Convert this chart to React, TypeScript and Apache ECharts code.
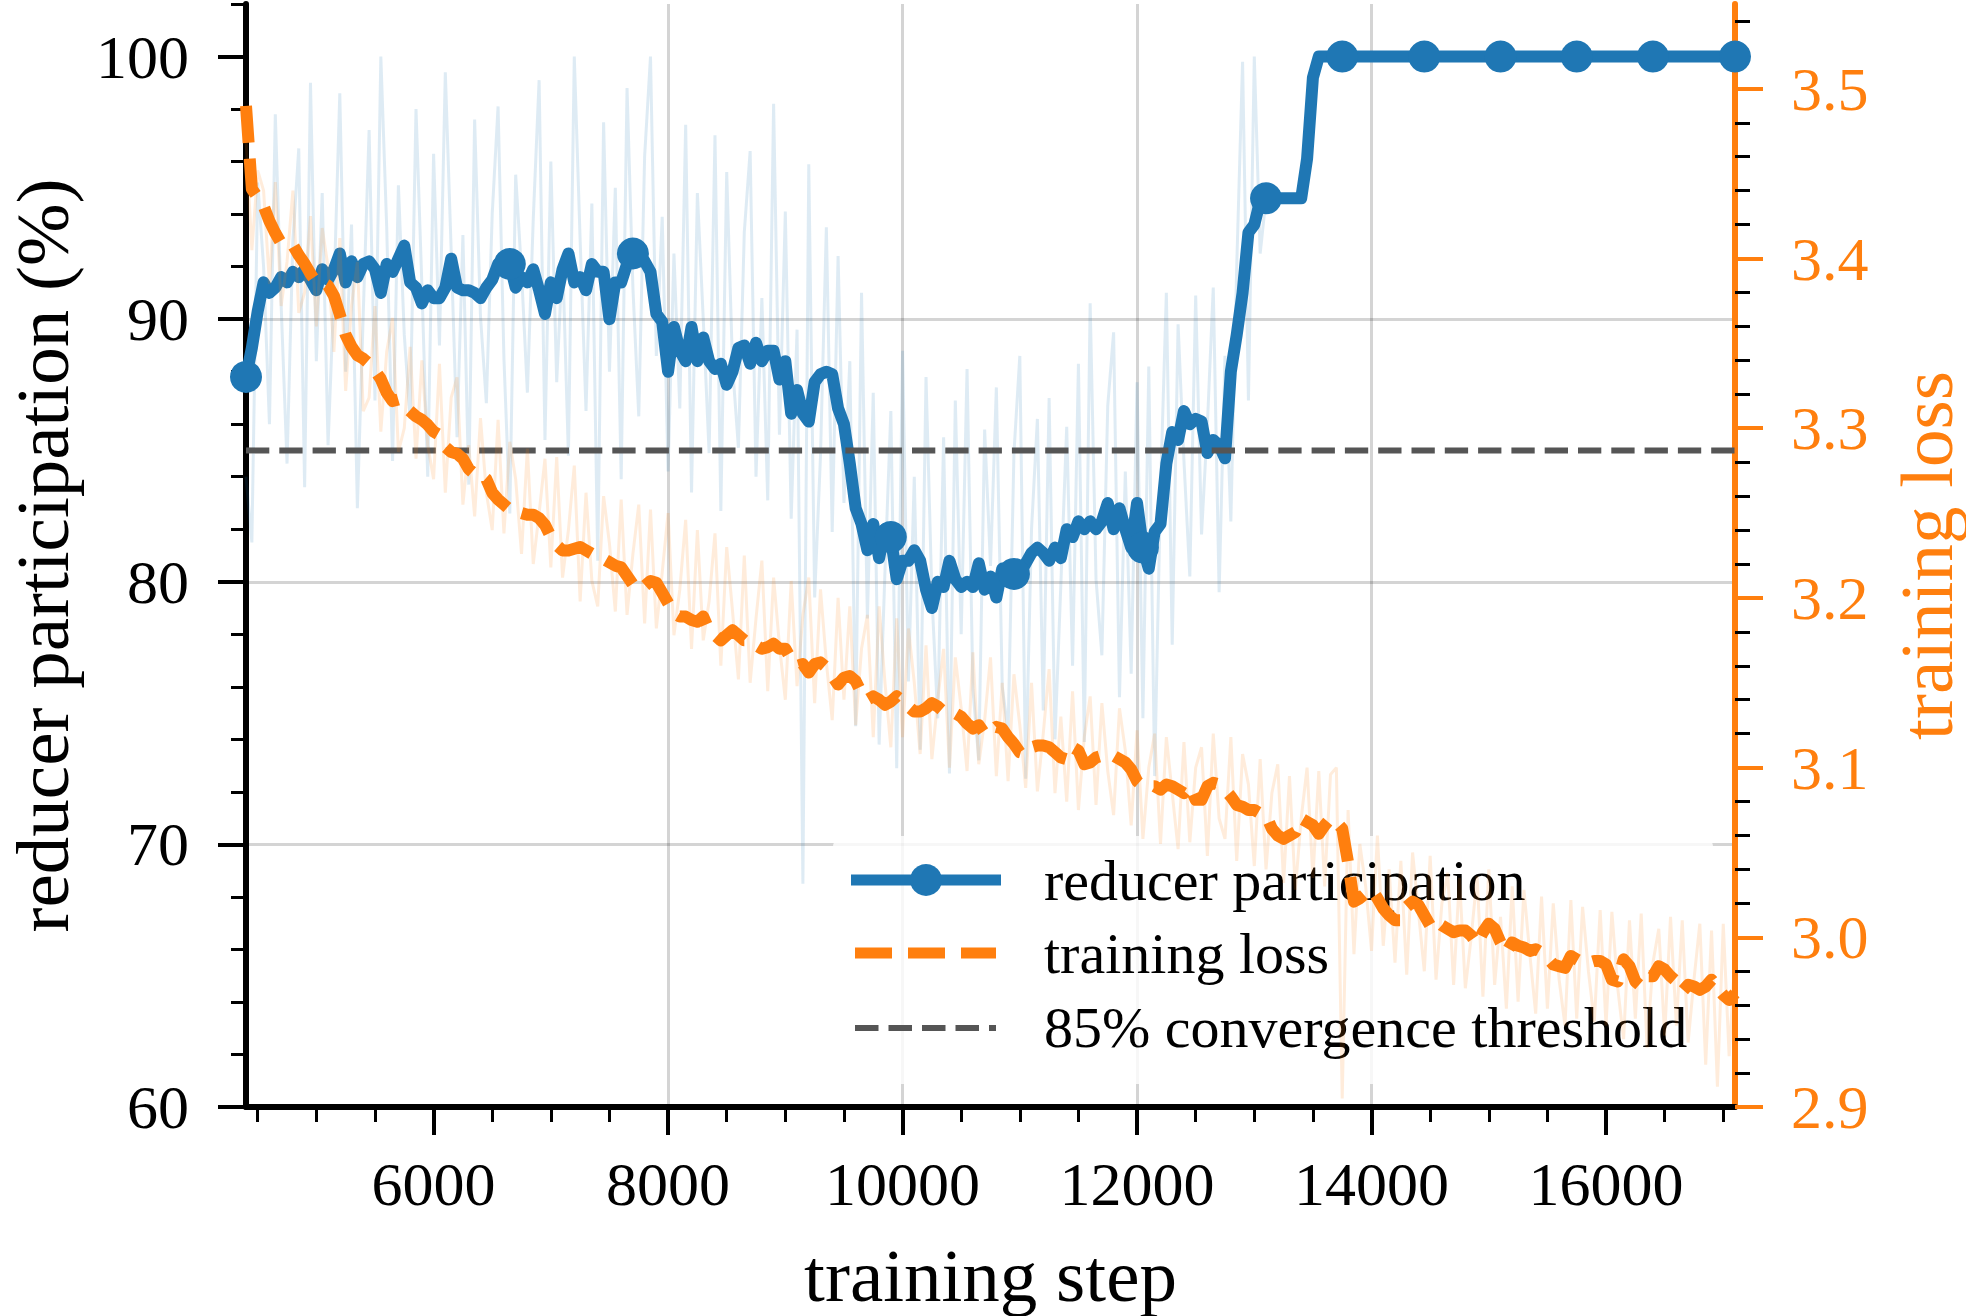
import React, { useEffect, useRef } from "react";
import * as echarts from "echarts";

// Logged every 50 training steps, from step 4400 to step 17100.
const STEP_START = 4400;
const STEP_SIZE = 50;
const STEP_MIN = 4400;
const STEP_MAX = 17100;

// Smoothed reducer participation (%).
const participation = [
  87.8, 88.9, 90.3, 91.4, 91.0, 91.2, 91.6, 91.4, 91.8, 91.6, 91.9, 91.5,
  91.1, 91.9, 91.5, 91.9, 92.5, 91.4, 92.2, 91.6, 92.1, 92.2,
  91.9, 91.0, 92.1, 91.8, 92.3, 92.8, 91.4, 91.2, 90.6, 91.1,
  90.8, 90.8, 91.2, 92.3, 91.2, 91.1, 91.1, 91.0, 90.8, 91.2,
  91.5, 92.1, 92.3, 92.1, 91.2, 91.6, 91.4, 91.9, 91.1, 90.2,
  91.4, 90.8, 91.9, 92.5, 91.4, 91.6, 91.1, 92.1, 91.8, 91.8,
  90.0, 91.4, 91.4, 92.1, 92.5, 92.5, 92.2, 91.8, 90.2, 89.9,
  88.0, 89.7, 88.8, 88.4, 89.7, 88.4, 89.3, 88.4, 88.1, 88.3,
  87.5, 88.0, 88.9, 89.0, 88.3, 89.1, 88.4, 88.8, 88.8, 87.7,
  88.4, 86.4, 87.3, 86.4, 86.1, 87.6, 87.9, 88.0, 87.9, 86.6,
  86.0, 84.5, 82.8, 82.2, 81.2, 82.2, 80.9, 82.0, 81.7, 80.1,
  80.8, 80.8, 81.2, 80.8, 79.7, 79.0, 80.0, 79.8, 80.8, 80.1,
  79.8, 80.0, 79.8, 80.7, 79.7, 80.2, 79.4, 80.5, 80.0, 80.3,
  80.3, 80.7, 81.1, 81.3, 81.1, 80.8, 81.3, 80.9, 82.0, 81.7,
  82.3, 82.0, 82.3, 82.0, 82.3, 83.0, 82.0, 82.8, 82.0, 81.3,
  83.0, 81.3, 80.5, 81.9, 82.2, 84.5, 85.7, 85.4, 86.5, 86.0,
  86.2, 86.1, 84.9, 85.4, 85.2, 84.7, 88.0, 89.4, 91.0, 93.3,
  93.6, 94.5, 94.6, 94.6, 94.6, 94.6, 94.6, 94.6, 94.6, 96.1,
  99.2, 100, 100, 100, 100, 100, 100, 100, 100, 100,
  100, 100, 100, 100, 100, 100, 100, 100, 100, 100,
  100, 100, 100, 100, 100, 100, 100, 100, 100, 100,
  100, 100, 100, 100, 100, 100, 100, 100, 100, 100,
  100, 100, 100, 100, 100, 100, 100, 100, 100, 100,
  100, 100, 100, 100, 100, 100, 100, 100, 100, 100,
  100, 100, 100, 100, 100, 100, 100, 100, 100, 100,
  100, 100, 100,
];

// Per-step reducer participation (%), until it locks in.
const participationRaw = [
  84.0, 81.5, 95.2, 92.0, 86.0, 97.8, 90.5, 84.5, 93.0, 96.5, 83.6, 99.0,
  88.4, 94.8, 85.2, 91.0, 98.6, 88.0, 93.6, 82.8, 90.2, 97.2,
  86.9, 100.0, 93.5, 84.6, 95.1, 89.4, 86.2, 98.0, 91.3, 84.0,
  96.3, 89.0, 99.4, 92.6, 85.5, 93.2, 83.7, 97.6, 90.1, 86.8,
  94.0, 98.1, 88.5, 82.6, 95.5, 91.8, 87.2, 93.8, 99.1, 85.4,
  96.0, 87.6, 92.4, 84.8, 100.0, 93.0, 86.5, 94.4, 80.8, 97.5,
  88.0, 95.0, 83.9, 98.8, 91.2, 86.3, 96.2, 100.0, 88.6, 93.9,
  84.2, 92.5, 86.6, 97.4, 83.4, 94.8, 90.0, 84.9, 97.0, 82.7,
  95.6, 88.2, 85.1, 93.3, 96.4, 84.0, 90.8, 83.1, 98.2, 85.6,
  94.1, 82.4, 89.6, 68.5, 95.9, 79.4, 84.8, 93.5, 81.9, 92.4,
  83.0, 88.4, 74.5, 91.0, 78.6, 87.2, 73.8, 80.4, 86.5, 72.9,
  88.8, 76.2, 84.0, 73.6, 87.8, 79.5, 74.8, 85.5, 72.7, 86.9,
  78.0, 88.1, 75.9, 73.2, 85.8, 80.6, 87.4, 76.0, 74.3, 84.9,
  88.6, 72.5, 82.0, 86.2, 75.1, 87.0, 74.0, 79.9, 85.9, 76.8,
  88.3, 73.9, 90.6, 80.1, 77.2, 86.7, 89.5, 75.6, 84.2, 76.5,
  87.6, 74.8, 88.2, 72.6, 83.5, 91.0, 77.6, 89.8, 84.6, 80.2,
  90.9, 81.8, 86.0, 91.2, 79.6, 88.6, 82.3, 92.0, 99.8, 86.9,
  100.0, 92.5, 94.6,
];

// Smoothed training loss.
const trainingLoss = [
  3.490, 3.441, 3.436, 3.431, 3.422, 3.415, 3.409, 3.408, 3.408, 3.402, 3.397, 3.391,
  3.386, 3.386, 3.384, 3.378, 3.367, 3.355, 3.348, 3.343, 3.341, 3.338,
  3.334, 3.329, 3.321, 3.316, 3.317, 3.313, 3.310, 3.307, 3.305, 3.302,
  3.298, 3.296, 3.289, 3.286, 3.285, 3.282, 3.276, 3.273, 3.273, 3.270,
  3.262, 3.258, 3.255, 3.252, 3.252, 3.250, 3.249, 3.249, 3.247, 3.243,
  3.236, 3.231, 3.228, 3.228, 3.229, 3.230, 3.228, 3.226, 3.225, 3.223,
  3.221, 3.219, 3.218, 3.213, 3.208, 3.205, 3.207, 3.210, 3.209, 3.203,
  3.197, 3.191, 3.189, 3.189, 3.187, 3.186, 3.189, 3.181, 3.178, 3.175,
  3.178, 3.181, 3.178, 3.175, 3.175, 3.172, 3.170, 3.171, 3.173, 3.170,
  3.170, 3.164, 3.160, 3.161, 3.156, 3.161, 3.162, 3.159, 3.154, 3.149,
  3.153, 3.154, 3.151, 3.144, 3.140, 3.142, 3.140, 3.137, 3.139, 3.142,
  3.139, 3.136, 3.133, 3.133, 3.135, 3.138, 3.136, 3.133, 3.132, 3.132,
  3.130, 3.126, 3.123, 3.125, 3.120, 3.121, 3.124, 3.123, 3.118, 3.114,
  3.109, 3.108, 3.112, 3.113, 3.113, 3.112, 3.109, 3.106, 3.105, 3.112,
  3.110, 3.102, 3.103, 3.106, 3.107, 3.108, 3.107, 3.105, 3.103, 3.099,
  3.092, 3.089, 3.089, 3.089, 3.087, 3.090, 3.089, 3.087, 3.085, 3.089,
  3.081, 3.081, 3.089, 3.091, 3.090, 3.087, 3.083, 3.078, 3.077, 3.075,
  3.075, 3.073, 3.072, 3.064, 3.060, 3.058, 3.060, 3.062, 3.070, 3.068,
  3.066, 3.061, 3.066, 3.070, 3.068, 3.064, 3.044, 3.021, 3.023, 3.026,
  3.028, 3.023, 3.017, 3.013, 3.010, 3.010, 3.018, 3.021, 3.019, 3.013,
  3.007, 3.010, 3.007, 3.005, 3.003, 3.004, 3.004, 3.001, 2.996, 3.003,
  3.008, 3.005, 2.997, 2.991, 2.997, 2.995, 2.994, 2.992, 2.993, 2.991,
  2.988, 2.984, 2.983, 2.982, 2.989, 2.987, 2.985, 2.985, 2.986, 2.986,
  2.984, 2.975, 2.974, 2.987, 2.983, 2.974, 2.971, 2.977, 2.977, 2.983,
  2.981, 2.977, 2.974, 2.968, 2.972, 2.971, 2.969, 2.971, 2.975, 2.970,
  2.966, 2.963, 2.967,
];

// Per-step training loss.
const trainingLossRaw = [
  3.470, 3.405, 3.452, 3.440, 3.385, 3.445, 3.372, 3.398, 3.440, 3.368, 3.380, 3.425,
  3.360, 3.418, 3.395, 3.345, 3.412, 3.322, 3.372, 3.398, 3.310, 3.318,
  3.372, 3.298, 3.345, 3.365, 3.286, 3.300, 3.348, 3.282, 3.340, 3.290,
  3.270, 3.338, 3.262, 3.318, 3.330, 3.255, 3.290, 3.248, 3.306, 3.262,
  3.240, 3.305, 3.238, 3.292, 3.270, 3.226, 3.288, 3.220, 3.250, 3.282,
  3.218, 3.283, 3.212, 3.240, 3.278, 3.198, 3.262, 3.210, 3.195, 3.260,
  3.232, 3.192, 3.258, 3.190, 3.226, 3.255, 3.185, 3.252, 3.182, 3.215,
  3.250, 3.178, 3.205, 3.246, 3.170, 3.240, 3.175, 3.198, 3.238, 3.160,
  3.230, 3.192, 3.152, 3.225, 3.150, 3.188, 3.222, 3.145, 3.212, 3.172,
  3.140, 3.210, 3.148, 3.190, 3.212, 3.138, 3.205, 3.162, 3.128, 3.200,
  3.140, 3.195, 3.125, 3.170, 3.190, 3.118, 3.195, 3.150, 3.112, 3.188,
  3.118, 3.182, 3.150, 3.108, 3.172, 3.105, 3.140, 3.170, 3.100, 3.165,
  3.135, 3.098, 3.168, 3.102, 3.128, 3.165, 3.095, 3.150, 3.092, 3.155,
  3.125, 3.088, 3.150, 3.086, 3.120, 3.158, 3.085, 3.130, 3.080, 3.145,
  3.075, 3.118, 3.142, 3.078, 3.138, 3.098, 3.072, 3.135, 3.110, 3.066,
  3.122, 3.058, 3.100, 3.120, 3.055, 3.118, 3.085, 3.052, 3.115, 3.056,
  3.100, 3.112, 3.048, 3.120, 3.070, 3.058, 3.118, 3.045, 3.108, 3.090,
  3.042, 3.105, 3.040, 3.085, 3.102, 3.032, 3.095, 3.028, 3.070, 3.100,
  3.035, 3.098, 3.030, 3.096, 3.100, 2.905, 3.075, 2.990, 3.055, 3.030,
  2.992, 3.060, 2.995, 3.040, 2.985, 3.045, 2.978, 3.050, 3.015, 2.980,
  3.048, 2.975, 3.020, 3.038, 2.972, 3.035, 2.970, 3.000, 3.036, 2.965,
  3.040, 2.972, 3.012, 2.958, 3.030, 2.962, 3.028, 2.990, 2.955, 3.024,
  2.958, 3.020, 2.975, 2.948, 3.022, 2.952, 3.018, 2.980, 2.950, 3.016,
  2.948, 3.015, 2.970, 2.940, 3.010, 2.952, 3.014, 2.935, 2.985, 3.005,
  2.942, 3.012, 2.948, 3.010, 2.938, 2.975, 3.008, 2.925, 3.004, 2.912,
  3.008, 2.930, 2.990,
];

// Steps that carry a participation marker.
const markerSteps = [4400, 6650, 7700, 9900, 10950, 12050, 13100, 13750, 14450, 15100, 15750, 16400, 17100];

const THRESHOLD = 85;

// Tick positions.
const stepTicks = [6000, 8000, 10000, 12000, 14000, 16000];
const stepMinorTicks = [
  4500, 5000, 5500, 6500, 7000, 7500, 8500, 9000, 9500, 10500, 11000, 11500,
  12500, 13000, 13500, 14500, 15000, 15500, 16500, 17000,
];
const participationTicks = [60, 70, 80, 90, 100];
const participationMinorTicks = [62, 64, 66, 68, 72, 74, 76, 78, 82, 84, 86, 88, 92, 94, 96, 98, 102];
const lossTicks = [2.9, 3.0, 3.1, 3.2, 3.3, 3.4, 3.5];
const lossMinorTicks = [
  2.92, 2.94, 2.96, 2.98, 3.02, 3.04, 3.06, 3.08, 3.12, 3.14, 3.16, 3.18,
  3.22, 3.24, 3.26, 3.28, 3.32, 3.34, 3.36, 3.38, 3.42, 3.44, 3.46, 3.48, 3.52, 3.54,
];

const PART_MIN = 60;
const PART_MAX = 102;
const LOSS_MIN = 2.9;
const LOSS_MAX = 3.55;

const FONT = "Liberation Serif";
const BLUE = "#1f77b4";
const ORANGE = "#ff7f0e";
const GRAY = "#555555";
const GRID_COLOR = "rgba(0,0,0,0.17)";
const TICK_FONT = 62;
const TITLE_FONT = 75;
const LEGEND_FONT = 58;
const LINE_WIDTH = 12;

const stepAt = (i: number) => STEP_START + STEP_SIZE * i;
const toPoints = (vals: number[]) => vals.map((v, i) => [stepAt(i), v]);

function legendText(text: string, y: number) {
  return {
    type: "text",
    z: 4,
    x: 1044,
    y,
    style: { text, fontSize: LEGEND_FONT, fontFamily: FONT, fill: "#000", align: "left", verticalAlign: "middle" },
  };
}

function axisTitle(text: string, x: number, y: number, color: string, vertical: boolean) {
  return {
    type: "text",
    x,
    y,
    rotation: vertical ? Math.PI / 2 : 0,
    style: {
      text,
      fontSize: TITLE_FONT,
      fontFamily: FONT,
      lineHeight: 58,
      fill: color,
      align: "center",
      verticalAlign: "middle",
    },
  };
}

function buildOption(): echarts.EChartsOption {
  const markerPoints = markerSteps.map((s) => [s, participation[(s - STEP_START) / STEP_SIZE]]);

  const minorAxisBase = {
    type: "value" as const,
    axisLine: { show: false },
    axisLabel: { show: false },
    splitLine: { show: false },
  };

  return {
    animation: false,
    backgroundColor: "#ffffff",
    textStyle: { fontFamily: FONT },
    grid: { left: 246, top: 4, width: 1489, height: 1103, containLabel: false },
    xAxis: [
      {
        type: "value",
        position: "bottom",
        min: STEP_MIN,
        max: STEP_MAX,
        axisLine: { show: true, onZero: false, lineStyle: { color: "#000", width: 6 } },
        axisTick: { show: true, length: 28, lineStyle: { color: "#000", width: 4 }, customValues: stepTicks },
        axisLabel: {
          show: true,
          customValues: stepTicks,
          margin: 46,
          fontSize: TICK_FONT,
          fontFamily: FONT,
          color: "#000",
          formatter: (v: number) => String(v),
        },
        splitLine: { show: true, showMinLine: false, showMaxLine: false, lineStyle: { color: GRID_COLOR, width: 3 } },
      },
      {
        ...minorAxisBase,
        position: "bottom",
        min: STEP_MIN,
        max: STEP_MAX,
        axisTick: { show: true, length: 15, lineStyle: { color: "#000", width: 3 }, customValues: stepMinorTicks },
      },
    ],
    yAxis: [
      {
        type: "value",
        position: "left",
        min: PART_MIN,
        max: PART_MAX,
        axisLine: { show: true, onZero: false, lineStyle: { color: "#000", width: 6 } },
        axisTick: { show: true, length: 28, lineStyle: { color: "#000", width: 4 }, customValues: participationTicks },
        axisLabel: {
          show: true,
          customValues: participationTicks,
          margin: 57,
          fontSize: TICK_FONT,
          fontFamily: FONT,
          color: "#000",
          formatter: (v: number) => String(v),
        },
        splitLine: { show: true, showMinLine: false, showMaxLine: false, lineStyle: { color: GRID_COLOR, width: 3 } },
      },
      {
        ...minorAxisBase,
        position: "left",
        min: PART_MIN,
        max: PART_MAX,
        axisTick: { show: true, length: 15, lineStyle: { color: "#000", width: 3 }, customValues: participationMinorTicks },
      },
      {
        type: "value",
        position: "right",
        min: LOSS_MIN,
        max: LOSS_MAX,
        axisLine: { show: true, onZero: false, lineStyle: { color: ORANGE, width: 6 } },
        axisTick: { show: true, length: 28, lineStyle: { color: ORANGE, width: 4 }, customValues: lossTicks },
        axisLabel: {
          show: true,
          customValues: lossTicks,
          margin: 56,
          fontSize: TICK_FONT,
          fontFamily: FONT,
          color: ORANGE,
          formatter: (v: number) => v.toFixed(1),
        },
        splitLine: { show: false },
      },
      {
        ...minorAxisBase,
        position: "right",
        min: LOSS_MIN,
        max: LOSS_MAX,
        axisTick: { show: true, length: 15, lineStyle: { color: "#000", width: 3 }, customValues: lossMinorTicks },
      },
    ],
    graphic: [
      axisTitle("reducer participation (%)", 42, 555.5, "#000", true),
      axisTitle("training loss", 1926, 555.5, ORANGE, true),
      axisTitle("training step", 990.5, 1275, "#000", false),
      // Legend box and entries
      {
        type: "rect",
        z: 4,
        shape: { x: 833, y: 836, width: 880, height: 248, r: 11 },
        style: { fill: "rgba(255,255,255,0.8)" },
      },
      {
        type: "line",
        z: 4,
        shape: { x1: 851, y1: 880, x2: 1001, y2: 880 },
        style: { stroke: BLUE, lineWidth: 11 },
      },
      {
        type: "circle",
        z: 4,
        shape: { cx: 926, cy: 880, r: 16 },
        style: { fill: BLUE },
      },
      {
        type: "line",
        z: 4,
        shape: { x1: 855, y1: 953, x2: 996, y2: 953 },
        style: { stroke: ORANGE, lineWidth: 11, lineDash: [37, 16] },
      },
      {
        type: "line",
        z: 4,
        shape: { x1: 855, y1: 1028, x2: 996, y2: 1028 },
        style: { stroke: GRAY, lineWidth: 6, lineDash: [23.5, 10] },
      },
      legendText("reducer participation", 880.5),
      legendText("training loss", 953.5),
      legendText("85% convergence threshold", 1027),
    ],
    series: [
      {
        name: "reducer participation (raw)",
        type: "line",
        xAxisIndex: 0,
        yAxisIndex: 0,
        data: toPoints(participationRaw),
        symbol: "none",
        silent: true,
        z: 1,
        lineStyle: { color: "rgba(31,119,180,0.15)", width: 3 },
      },
      {
        name: "reducer participation",
        type: "line",
        xAxisIndex: 0,
        yAxisIndex: 0,
        data: toPoints(participation),
        symbol: "none",
        silent: true,
        z: 2,
        lineStyle: { color: BLUE, width: LINE_WIDTH, join: "round" },
      },
      {
        name: "reducer participation markers",
        type: "scatter",
        xAxisIndex: 0,
        yAxisIndex: 0,
        data: markerPoints,
        symbol: "circle",
        symbolSize: 32,
        silent: true,
        clip: true,
        z: 2,
        itemStyle: { color: BLUE, opacity: 1 },
      },
      {
        name: "85% convergence threshold",
        type: "line",
        xAxisIndex: 0,
        yAxisIndex: 0,
        data: [
          [STEP_MIN, THRESHOLD],
          [STEP_MAX, THRESHOLD],
        ],
        symbol: "none",
        silent: true,
        z: 3,
        lineStyle: { color: GRAY, width: 6, type: [23.3, 10] },
      },
      {
        name: "training loss (raw)",
        type: "line",
        xAxisIndex: 0,
        yAxisIndex: 2,
        data: toPoints(trainingLossRaw),
        symbol: "none",
        silent: true,
        z: 5,
        lineStyle: { color: "rgba(255,127,14,0.15)", width: 3 },
      },
      {
        name: "training loss",
        type: "line",
        xAxisIndex: 0,
        yAxisIndex: 2,
        data: toPoints(trainingLoss),
        symbol: "none",
        silent: true,
        z: 6,
        lineStyle: { color: ORANGE, width: LINE_WIDTH, type: [37, 16], join: "round" },
      },
    ],
  } as echarts.EChartsOption;
}

export default function App() {
  const ref = useRef<HTMLDivElement | null>(null);

  useEffect(() => {
    if (!ref.current) return;
    const chart = echarts.init(ref.current, null, { renderer: "svg" });
    chart.setOption(buildOption());
    return () => {
      chart.dispose();
    };
  }, []);

  return (
    <div
      ref={ref}
      style={{ position: "fixed", left: 0, top: 0, width: 1966, height: 1316, background: "#ffffff" }}
    />
  );
}
